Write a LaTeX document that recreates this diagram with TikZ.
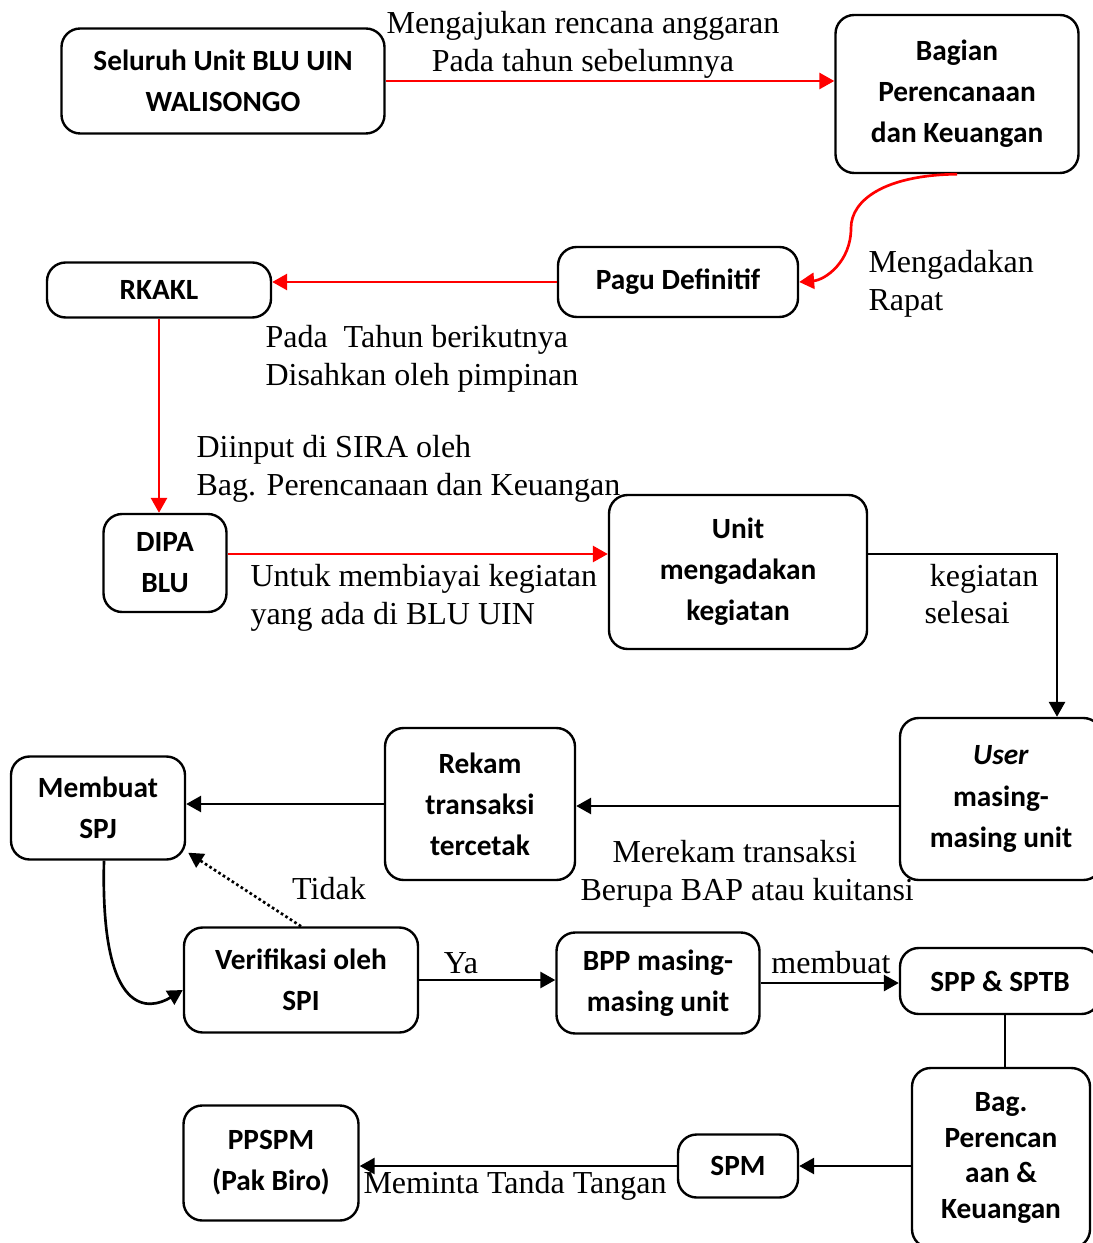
\documentclass[tikz,border=0pt]{standalone}
\usepackage{fontspec}
\setmainfont{Liberation Serif}
\newfontfamily\boxfont{Carlito}
\usetikzlibrary{arrows.meta, calc}

\tikzset{
    box/.style={draw, rounded corners=7pt, line width=0.9pt, align=center, inner sep=0pt,
        font=\boxfont\bfseries\fontsize{11}{15.4}\selectfont},
    boxsize/.style 2 args={minimum width=#1*0.375pt, minimum height=#2*0.375pt},
    lbl/.style={inner sep=0pt, font=\fontsize{12}{14.2}\selectfont},
    redline/.style={red, line width=1pt, -{Triangle[length=5.6pt,width=6pt]}},
    blackline/.style={black, line width=1pt, -{Triangle[length=5.6pt,width=6pt]}},
}

\begin{document}
\begin{tikzpicture}[x=0.375pt, y=-0.375pt]

    \useasboundingbox (0,0) rectangle (1093,1243);

    \node[box, boxsize={323}{105}]  (sbu)   at (223,81)   {Seluruh Unit BLU UIN\\WALISONGO};
    \node[box, boxsize={243}{158}]  (bpk)   at (957,94)   {Bagian\\Perencanaan\\dan Keuangan};
    \node[box, boxsize={240}{70}]   (pagu)  at (678,282)  {Pagu Definitif};
    \node[box, boxsize={224}{55}]   (rkakl) at (159,290)  {RKAKL};
    \node[box, boxsize={123}{98}]   (dipa)  at (165,563)  {DIPA\\BLU};
    \node[box, boxsize={258}{154}]  (unit)  at (738,572)  {Unit\\mengadakan\\kegiatan};

    \node[box, boxsize={202}{162}]  (user)  at (1001,799) {\textit{User}\\masing-\\masing unit};
    \node[box, boxsize={190}{152}]  (rekam) at (480,804)  {Rekam\\transaksi\\tercetak};
    \node[box, boxsize={174}{103}]  (spj)   at (98,808)   {Membuat\\SPJ};

    \node[box, boxsize={234}{105}]  (spi)   at (301,980)  {Verifikasi oleh\\SPI};
    \node[box, boxsize={203}{101}]  (bpp)   at (658,983)  {BPP masing-\\masing unit};
    \node[box, boxsize={200}{66}]   (spp)   at (1000,981) {SPP \& SPTB};

    \node[box, boxsize={178}{180}, font=\boxfont\bfseries\fontsize{11}{13.4}\selectfont]
                                    (bag)   at (1001,1158) {Bag.\\Perencan\\aan \&\\Keuangan};
    \node[box, boxsize={120}{63}]   (spm)   at (738,1166) {SPM};
    \node[box, boxsize={175}{115}]  (ppspm) at (271,1163) {PPSPM\\(Pak Biro)};

    \coordinate (dipaout) at ($(dipa.east)+(0,-9)$);
    \coordinate (unitout) at ($(unit.east)+(0,-18)$);
    \coordinate (userin)  at ($(user.north)+(56,0)$);
    \coordinate (userout) at ($(user.west)+(0,7)$);
    \coordinate (sppout)  at ($(spp.south)+(5,0)$);

    \path[redline]
    (sbu.east)   edge (sbu.east -| bpk.west)
    (pagu.west)  edge (pagu.west -| rkakl.east)
    (rkakl.south) edge (rkakl.south |- dipa.north)
    (dipaout)    edge (dipaout -| unit.west);

    \draw[redline] (bpk.south) .. controls (885,175) and (851,200) .. (851,228)
        .. controls (851,262) and (825,280) .. (pagu.east);

    \path[blackline]
    (userout)    edge (userout -| rekam.east)
    (rekam.west) edge (rekam.west -| spj.east)
    (spi.east)   edge (spi.east -| bpp.west)
    (bpp.east)   edge (bpp.east -| spp.west)
    (bag.west |- spm.east) edge (spm.east)
    (spm.west)   edge (spm.west -| ppspm.east);

    \draw[blackline] (unitout) -| (userin);
    \draw[blackline] ($(spj.south)+(6,0)$) .. controls (100,1020) and (150,1010) .. ($(spi.west)+(0,10)$);
    \draw[blackline, densely dotted] (spi.north) -- ($(spj.south east)+(2,-8)$);
    \draw[line width=1pt] (sppout) -- (sppout |- bag.north);

    \node[lbl, align=center] (lblaju)     at (583,45)   {Mengajukan rencana anggaran\\Pada tahun sebelumnya};
    \node[lbl, align=left, anchor=west]  (lblrapat)   at (868,284)  {Mengadakan\\Rapat};
    \node[lbl, align=left, anchor=west]  (lblsah)     at (265,359)  {Pada\ \ Tahun berikutnya\\Disahkan oleh pimpinan};
    \node[lbl, align=left, anchor=west]  (lblinput)   at (196,469)  {Diinput di SIRA oleh\\Bag. Perencanaan dan Keuangan};
    \node[lbl, align=left, anchor=west]  (lblbiaya)   at (250,598)  {Untuk membiayai kegiatan\\yang ada di BLU UIN};
    \node[lbl, align=left, anchor=west]  (lblselesai) at (924,594)  {\hspace*{2pt}kegiatan\\selesai};
    \node[lbl, align=left, anchor=west]  (lblrekam)   at (580,874)  {\hspace*{12pt}Merekam transaksi\\Berupa BAP atau kuitansi};
    \node[lbl] (lbltidak)  at (329,889)  {Tidak};
    \node[lbl] (lblya)     at (461,963)  {Ya};
    \node[lbl] (lblbuat)   at (831,963)  {membuat};
    \node[lbl] (lblminta)  at (515,1186) {Meminta Tanda Tangan};

\end{tikzpicture}
\end{document}
